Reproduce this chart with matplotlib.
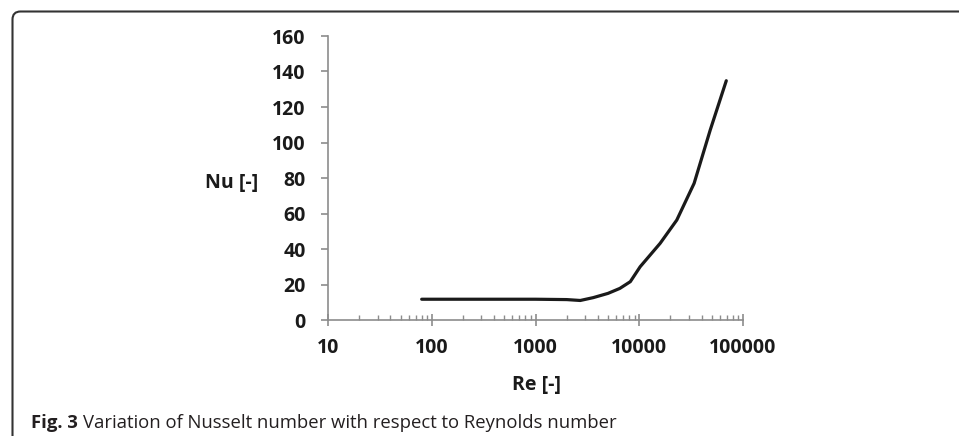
import matplotlib
matplotlib.use("Agg")
import matplotlib.pyplot as plt
from matplotlib.path import Path
from matplotlib.patches import PathPatch
from matplotlib.ticker import LogLocator, FixedLocator, NullFormatter

# values
reynolds = [80, 1000, 2000, 2700, 3600, 5000, 6500, 8200, 10200,
            15900, 23000, 33800, 48300, 69000]
nusselt = [11.7, 11.7, 11.5, 11.0, 12.6, 15.0, 17.8, 21.6, 30.0,
           43.2, 56.3, 77.0, 107.0, 134.8]
x_ticks = [10, 100, 1000, 10000, 100000]
x_tick_labels = ["10", "100", "1000", "10000", "100000"]
y_ticks = [0, 20, 40, 60, 80, 100, 120, 140, 160]

W, H = 959, 436
fig = plt.figure(figsize=(W / 100, H / 100), dpi=100)
ax = fig.add_axes([328 / W, 1 - 320 / H, 415 / W, 284 / H])

ax.plot(reynolds, nusselt, color="#1a1a1a", lw=2.3,
        solid_joinstyle="round", solid_capstyle="round")

ax.set_xscale("log")
ax.set_xlim(10, 100000)
ax.set_ylim(0, 160)

grey = "#8c8c8c"
font = "Open Sans"
txt = "#1a1a1a"
for s in ["top", "right"]:
    ax.spines[s].set_visible(False)
for s in ["left", "bottom"]:
    ax.spines[s].set_color(grey)
    ax.spines[s].set_linewidth(1.2)

ax.xaxis.set_major_locator(FixedLocator(x_ticks))
ax.set_xticklabels(x_tick_labels)
ax.xaxis.set_minor_locator(LogLocator(base=10, subs=range(2, 10)))
ax.xaxis.set_minor_formatter(NullFormatter())
ax.set_yticks(y_ticks)

ax.tick_params(axis="x", which="major", direction="inout", length=8.6,
               width=1.2, color=grey, pad=9)
ax.tick_params(axis="x", which="minor", direction="in", length=3.6,
               width=1.0, color=grey)
ax.tick_params(axis="y", which="major", direction="out", length=5,
               width=1.2, color=grey, pad=11)
for lab in ax.get_xticklabels() + ax.get_yticklabels():
    lab.set_fontfamily(font)
    lab.set_fontweight("bold")
    lab.set_fontsize(14)
    lab.set_color(txt)

fig.text(232 / W, 1 - 183 / H, "Nu [-]", ha="center", va="center",
         family=font, weight="bold", fontsize=14, color=txt)
fig.text(536 / W, 1 - 385 / H, "Re [-]", ha="center", va="center",
         family=font, weight="bold", fontsize=14, color=txt)

# caption
cap_y = 1 - 428 / H
t1 = fig.text(31 / W, cap_y, "Fig. 3", ha="left", va="baseline",
              family=font, weight="bold", fontsize=13.3, color="#231f20")
fig.canvas.draw()
bb = t1.get_window_extent()
fig.text((bb.x1 + 5) / W, cap_y,
         "Variation of Nusselt number with respect to Reynolds number",
         ha="left", va="baseline", family=font, fontsize=13.3,
         color="#231f20")

# rounded frame on the left and top
r = 8
left, top = 12.5, H - 11.5
verts = [(left, -5), (left, top - r), (left, top), (left + r, top), (W + 5, top)]
codes = [Path.MOVETO, Path.LINETO, Path.CURVE3, Path.CURVE3, Path.LINETO]
fig.patches.append(PathPatch(Path(verts, codes), transform=None, fill=False,
                             edgecolor="#333333", lw=1.5))

fig.savefig("out.png", dpi=100)
